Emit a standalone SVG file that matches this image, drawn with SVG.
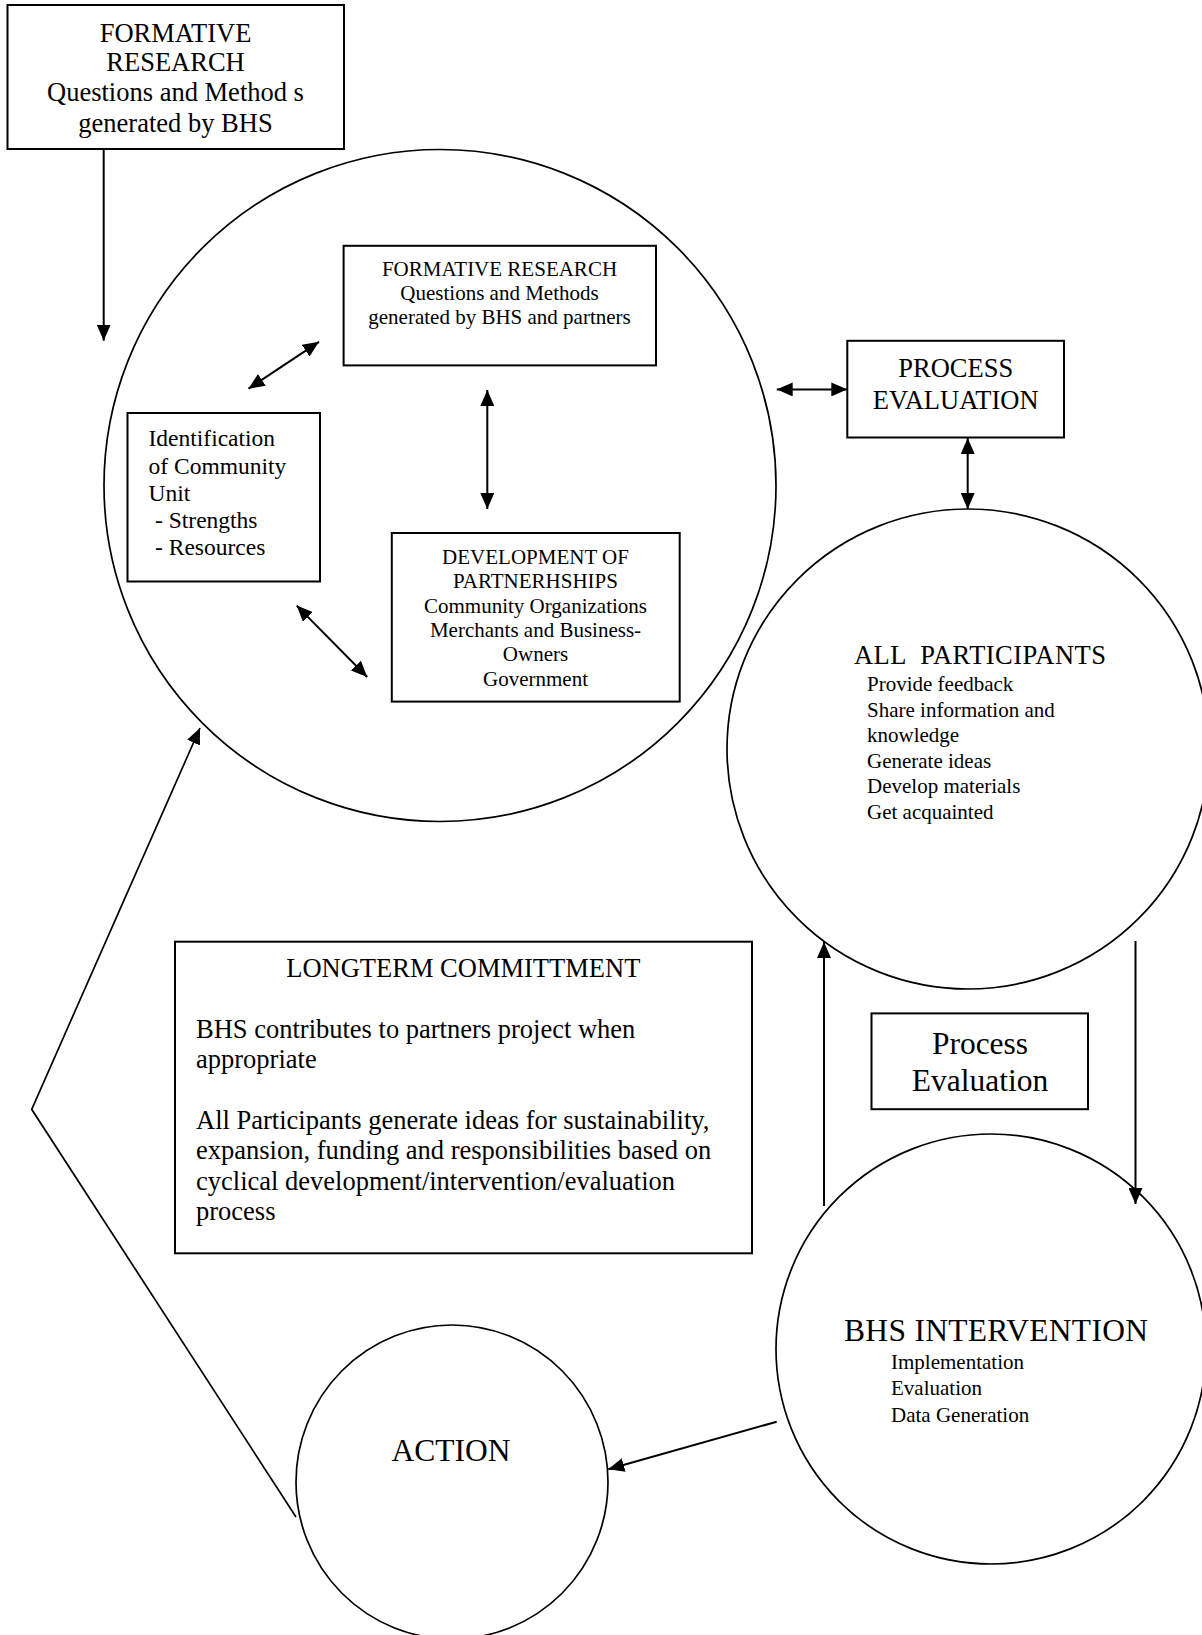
<svg xmlns="http://www.w3.org/2000/svg" width="1202" height="1635" viewBox="0 0 1202 1635">
<style>
text{font-family:"Liberation Serif","Times New Roman",serif;fill:#000}
.box{fill:#fff;stroke:#000;stroke-width:2}
.circ{fill:#fff;stroke:#000;stroke-width:1.7}
.ln{fill:none;stroke:#000;stroke-width:2}
.f21{font-size:21px}
.f235{font-size:23.5px}
.f26{font-size:26.5px}
.f31{font-size:31.5px}
.mid{text-anchor:middle}
</style>
<defs>
<marker id="ah" viewBox="0 0 16 14" refX="16" refY="7" markerWidth="16" markerHeight="14" markerUnits="userSpaceOnUse" orient="auto-start-reverse">
<path d="M0,0 L16,7 L0,14 z" fill="#000"/>
</marker>
</defs>
<rect width="1202" height="1635" fill="#fff"/>

<g id="big-circle">
<circle class="circ" cx="440" cy="485.5" r="336"/>
</g>

<g id="all-participants">
<ellipse class="circ" cx="968" cy="749" rx="241" ry="240"/>
<text class="f26" x="854" y="663.5" xml:space="preserve" textLength="252" lengthAdjust="spacing">ALL  PARTICIPANTS</text>
<text class="f21" x="867" y="691">Provide feedback</text>
<text class="f21" x="867" y="716.5">Share information and</text>
<text class="f21" x="867" y="742">knowledge</text>
<text class="f21" x="867" y="767.5">Generate ideas</text>
<text class="f21" x="867" y="793">Develop materials</text>
<text class="f21" x="867" y="818.5">Get acquainted</text>
</g>

<g id="bhs-intervention">
<circle class="circ" cx="991" cy="1349" r="215"/>
<text class="f31" x="844" y="1341" textLength="304" lengthAdjust="spacing">BHS INTERVENTION</text>
<text class="f21" x="891" y="1368.7">Implementation</text>
<text class="f21" x="891" y="1395">Evaluation</text>
<text class="f21" x="891" y="1421.7">Data Generation</text>
</g>

<g id="action">
<ellipse class="circ" cx="452" cy="1482" rx="156" ry="157"/>
<text class="f31 mid" x="451" y="1461">ACTION</text>
</g>

<g id="formative-research-top">
<rect class="box" x="7.5" y="5" width="336.5" height="144"/>
<text class="f26 mid" x="175.5" y="41.7">FORMATIVE</text>
<text class="f26 mid" x="175.5" y="70.7">RESEARCH</text>
<text class="f26 mid" x="175.5" y="101">Questions and Method s</text>
<text class="f26 mid" x="175.5" y="131.7">generated by BHS</text>
</g>

<g id="formative-research-inner">
<rect class="box" x="343.6" y="245.8" width="312.4" height="119.6"/>
<text class="f21 mid" x="499.5" y="276">FORMATIVE RESEARCH</text>
<text class="f21 mid" x="499.5" y="300">Questions and Methods</text>
<text class="f21 mid" x="499.5" y="324">generated by BHS and partners</text>
</g>

<g id="identification">
<rect class="box" x="127.5" y="413" width="192.5" height="168.5"/>
<text class="f235" x="148.5" y="445.8">Identification</text>
<text class="f235" x="148.5" y="474">of Community</text>
<text class="f235" x="148.5" y="500.7">Unit</text>
<text class="f235" x="155" y="528">- Strengths</text>
<text class="f235" x="155" y="555">- Resources</text>
</g>

<g id="development">
<rect class="box" x="391.8" y="533" width="287.9" height="168.6"/>
<text class="f21 mid" x="535.5" y="564">DEVELOPMENT OF</text>
<text class="f21 mid" x="535.5" y="587.8">PARTNERHSHIPS</text>
<text class="f21 mid" x="535.5" y="613">Community Organizations</text>
<text class="f21 mid" x="535.5" y="637">Merchants and Business-</text>
<text class="f21 mid" x="535.5" y="661.4">Owners</text>
<text class="f21 mid" x="535.5" y="685.5">Government</text>
</g>

<g id="process-evaluation-top">
<rect class="box" x="847.3" y="340.8" width="216.7" height="96.7"/>
<text class="f26 mid" x="955.7" y="377.2">PROCESS</text>
<text class="f26 mid" x="955.7" y="408.9">EVALUATION</text>
</g>

<g id="process-evaluation-lower">
<rect class="box" x="871.5" y="1013.4" width="216.5" height="95.8"/>
<text class="f31 mid" x="980" y="1054">Process</text>
<text class="f31 mid" x="980" y="1091">Evaluation</text>
</g>

<g id="longterm">
<rect class="box" x="175" y="941.7" width="577" height="311.6"/>
<text class="f26 mid" x="463.3" y="976.7">LONGTERM COMMITTMENT</text>
<text class="f26" x="196" y="1038">BHS contributes to partners project when</text>
<text class="f26" x="196" y="1068">appropriate</text>
<text class="f26" x="196" y="1128.5">All Participants generate ideas for sustainability,</text>
<text class="f26" x="196" y="1159">expansion, funding and responsibilities based on</text>
<text class="f26" x="196" y="1189.5">cyclical development/intervention/evaluation</text>
<text class="f26" x="196" y="1220">process</text>
</g>

<g id="connectors">
<line class="ln" x1="103.7" y1="149" x2="103.7" y2="340.7" marker-end="url(#ah)"/>
<line class="ln" x1="248.5" y1="388.7" x2="319" y2="341.8" marker-start="url(#ah)" marker-end="url(#ah)"/>
<line class="ln" x1="487.3" y1="390" x2="487.3" y2="509" marker-start="url(#ah)" marker-end="url(#ah)"/>
<line class="ln" x1="296.7" y1="605.6" x2="367.2" y2="677" marker-start="url(#ah)" marker-end="url(#ah)"/>
<line class="ln" x1="776.7" y1="389.4" x2="847.3" y2="389.4" marker-start="url(#ah)" marker-end="url(#ah)"/>
<line class="ln" x1="967.7" y1="438" x2="967.7" y2="509" marker-start="url(#ah)" marker-end="url(#ah)"/>
<line class="ln" x1="824" y1="1206" x2="824" y2="942" marker-end="url(#ah)"/>
<line class="ln" x1="1135.5" y1="941" x2="1135.5" y2="1204" marker-end="url(#ah)"/>
<line class="ln" x1="776.7" y1="1421.7" x2="608.3" y2="1469.3" marker-end="url(#ah)"/>
<polyline points="296,1517 31.7,1109.3 200,728" fill="none" stroke="#000" stroke-width="1.7" marker-end="url(#ah)"/>
</g>
</svg>
